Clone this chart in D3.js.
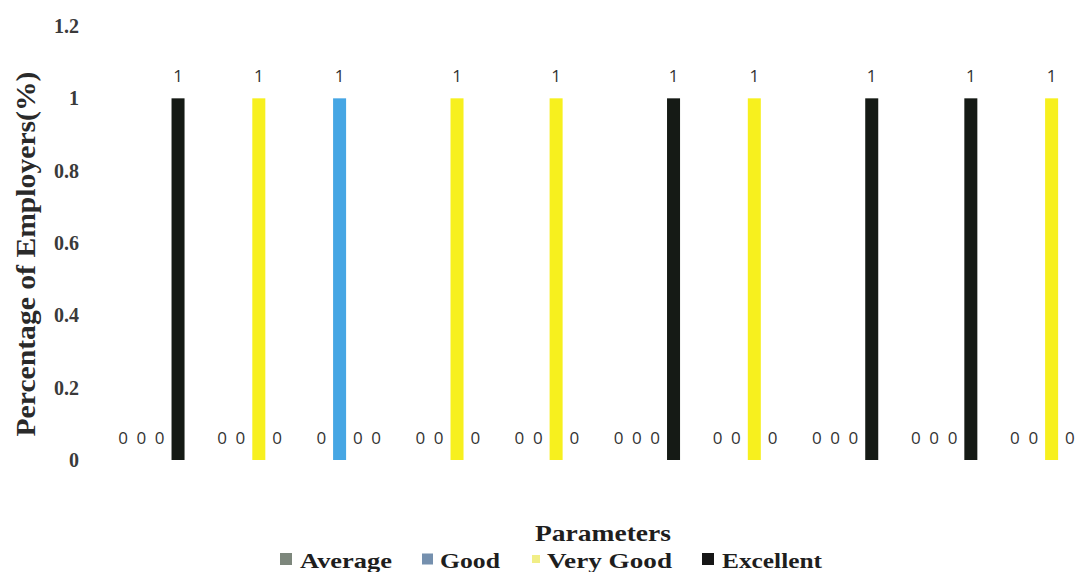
<!DOCTYPE html>
<html>
<head>
<meta charset="utf-8">
<script src="https://cdn.jsdelivr.net/npm/d3@7"></script>
<style>
  html, body { margin: 0; padding: 0; background: #fff; }
  svg { display: block; }
</style>
</head>
<body>
<svg id="chart" width="1075" height="572"></svg>
<script>
// ---- data ----
const categories = ["P1", "P2", "P3", "P4", "P5", "P6", "P7", "P8", "P9", "P10"];
const seriesNames = ["Average", "Good", "Very Good", "Excellent"];
const averageValues   = [0, 0, 0, 0, 0, 0, 0, 0, 0, 0];
const goodValues      = [0, 0, 1, 0, 0, 0, 0, 0, 0, 0];
const veryGoodValues  = [0, 1, 0, 1, 1, 0, 1, 0, 0, 1];
const excellentValues = [1, 0, 0, 0, 0, 1, 0, 1, 1, 0];
const yTicks = [0, 0.2, 0.4, 0.6, 0.8, 1, 1.2];
const yTickLabels = ["0", "0.2", "0.4", "0.6", "0.8", "1", "1.2"];

// ---- styles ----
const barColors = ["#7d877c", "#46a6e4", "#f7f01e", "#151a15"];
const legendColors = ["#7d877c", "#7590ae", "#f1ee86", "#161616"];

const seriesValues = [averageValues, goodValues, veryGoodValues, excellentValues];
const rows = categories.map((c, i) => ({
  cat: c,
  vals: seriesNames.map((s, j) => ({ series: s, j: j, value: seriesValues[j][i] }))
}));

const svg = d3.select("#chart");

const x0 = d3.scaleBand().domain(categories).range([101, 1092]).paddingInner(0).paddingOuter(0);
const x1 = d3.scaleBand().domain(seriesNames).range([12.9, x0.bandwidth() - 12.9]).paddingInner(0.29).paddingOuter(0.145);
const y = d3.scaleLinear().domain([0, 1.2]).range([460, 26]);

// y axis (labels only)
const yAxis = d3.axisLeft(y).tickValues(yTicks).tickFormat((d, i) => yTickLabels[i]).tickSize(0).tickPadding(0);
const yg = svg.append("g").attr("transform", "translate(79,0)").call(yAxis);
yg.select(".domain").remove();
yg.selectAll("text")
  .attr("font-family", "'Liberation Serif', 'Times New Roman', serif")
  .attr("font-size", 20)
  .attr("font-weight", "bold")
  .attr("fill", "#3a3a3a");

// bars
const groups = svg.append("g").selectAll("g").data(rows).enter().append("g")
  .attr("transform", d => `translate(${x0(d.cat)},0)`);

groups.selectAll("rect").data(d => d.vals.filter(v => v.value > 0)).enter().append("rect")
  .attr("x", d => x1(d.series))
  .attr("y", d => y(d.value))
  .attr("width", x1.bandwidth())
  .attr("height", d => y(0) - y(d.value))
  .attr("fill", d => barColors[d.j]);

// value labels
groups.selectAll("text").data(d => d.vals).enter().append("text")
  .attr("x", d => x1(d.series) + x1.bandwidth() / 2)
  .attr("y", d => y(d.value) - 16)
  .attr("text-anchor", "middle")
  .attr("font-family", "'Open Sans', 'DejaVu Sans', sans-serif")
  .attr("font-size", 17)
  .attr("fill", "#333")
  .text(d => d.value);

// y title
svg.append("text")
  .attr("transform", "translate(35,254) rotate(-90)")
  .attr("text-anchor", "middle")
  .attr("font-family", "'Liberation Serif', 'Times New Roman', serif")
  .attr("font-size", 27)
  .attr("font-weight", "bold")
  .attr("fill", "#2a2a2a")
  .attr("textLength", 365)
  .attr("lengthAdjust", "spacingAndGlyphs")
  .text("Percentage of Employers(%)");

// x title
svg.append("text")
  .attr("x", 603)
  .attr("y", 541)
  .attr("text-anchor", "middle")
  .attr("font-family", "'Liberation Serif', 'Times New Roman', serif")
  .attr("font-size", 23)
  .attr("font-weight", "bold")
  .attr("fill", "#1e1e1e")
  .attr("textLength", 136)
  .attr("lengthAdjust", "spacingAndGlyphs")
  .text("Parameters");

// legend
const legendItems = [
  { name: seriesNames[0], sx: 280, tx: 300, tl: 92, size: 12 },
  { name: seriesNames[1], sx: 422, tx: 440, tl: 60, size: 11 },
  { name: seriesNames[2], sx: 532, tx: 547, tl: 125, size: 8 },
  { name: seriesNames[3], sx: 702, tx: 722, tl: 100, size: 12 }
];
const lg = svg.append("g");
legendItems.forEach((it, i) => {
  lg.append("rect")
    .attr("x", it.sx)
    .attr("y", 562 - it.size / 2 - 3)
    .attr("width", it.size)
    .attr("height", it.size)
    .attr("fill", legendColors[i]);
  lg.append("text")
    .attr("x", it.tx)
    .attr("y", 568)
    .attr("font-family", "'Liberation Serif', 'Times New Roman', serif")
    .attr("font-size", 22)
    .attr("font-weight", "bold")
    .attr("fill", "#1e1e1e")
    .attr("textLength", it.tl)
    .attr("lengthAdjust", "spacingAndGlyphs")
    .text(it.name);
});
</script>
</body>
</html>
